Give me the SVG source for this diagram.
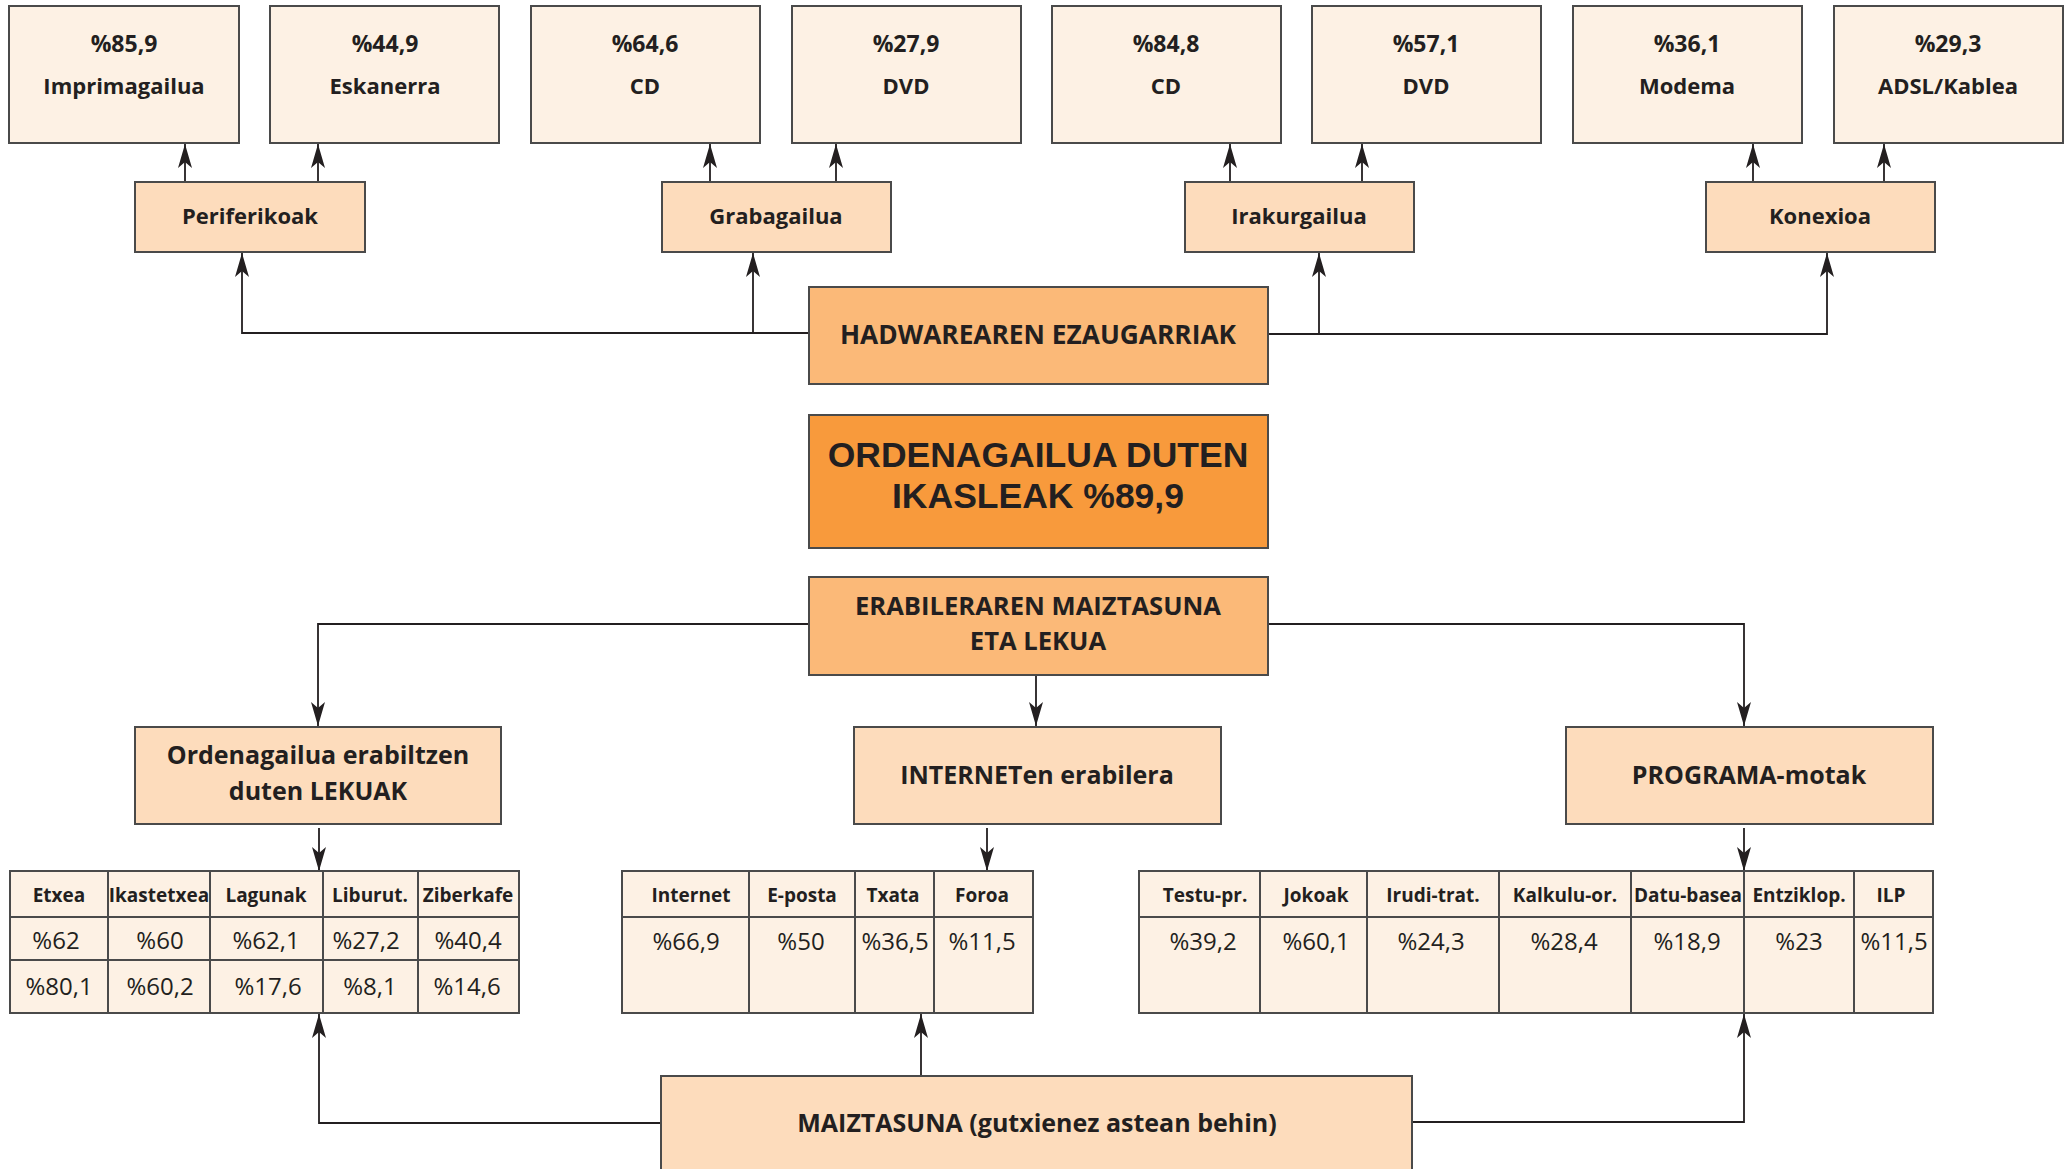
<svg xmlns="http://www.w3.org/2000/svg" width="2069" height="1169" viewBox="0 0 2069 1169">
<defs>
<style>
text{font-family:"Open Sans","Liberation Sans",Arial,sans-serif;fill:#231f20;text-anchor:middle}
.b{font-weight:bold}
.ttl{font-family:"Liberation Sans",Arial,sans-serif;font-weight:bold;font-size:35.5px}
.val{fill:#fdf1e4;stroke:#4a4a4a;stroke-width:2}
.mid{fill:#fddcbc;stroke:#4a4a4a;stroke-width:2}
.hdr{fill:#fbb978;stroke:#4a4a4a;stroke-width:2}
.main{fill:#f89a3c;stroke:#4a4a4a;stroke-width:2}
.grid{stroke:#4a4a4a;stroke-width:2;fill:none}
.t1{font-size:23px;font-weight:bold}
.t2{font-size:22px;font-weight:bold}
.th{font-size:19px;font-weight:bold}
.td{font-size:24px}
.lb{font-size:25px;font-weight:bold}
.conn{stroke:#231f20;stroke-width:1.8;fill:none}
.arr{marker-end:url(#ah)}
</style>
<marker id="ah" markerUnits="userSpaceOnUse" markerWidth="30" markerHeight="20" refX="24" refY="7" orient="auto" viewBox="0 0 30 20">
<path d="M24,7 L0,0 L6,7 L0,14 Z" fill="#231f20"/>
</marker>
</defs>

<g id="connectors">
<line class="conn arr" x1="185" y1="182" x2="185" y2="144"/>
<line class="conn arr" x1="318" y1="182" x2="318" y2="144"/>
<line class="conn arr" x1="710" y1="182" x2="710" y2="144"/>
<line class="conn arr" x1="836" y1="182" x2="836" y2="144"/>
<line class="conn arr" x1="1230" y1="182" x2="1230" y2="144"/>
<line class="conn arr" x1="1362" y1="182" x2="1362" y2="144"/>
<line class="conn arr" x1="1753" y1="182" x2="1753" y2="144"/>
<line class="conn arr" x1="1884" y1="182" x2="1884" y2="144"/>
<polyline class="conn arr" points="809,333 242,333 242,253"/>
<line class="conn arr" x1="753" y1="333" x2="753" y2="253"/>
<polyline class="conn arr" points="1268,334 1827,334 1827,253"/>
<line class="conn arr" x1="1319" y1="334" x2="1319" y2="253"/>
<polyline class="conn arr" points="809,624 318,624 318,726"/>
<polyline class="conn arr" points="1268,624 1744,624 1744,726"/>
<line class="conn arr" x1="1036" y1="676" x2="1036" y2="726"/>
<line class="conn arr" x1="319" y1="828" x2="319" y2="871"/>
<line class="conn arr" x1="987" y1="828" x2="987" y2="871"/>
<line class="conn arr" x1="1744" y1="828" x2="1744" y2="871"/>
<polyline class="conn arr" points="661,1123 319,1123 319,1014"/>
<polyline class="conn arr" points="1412,1122 1744,1122 1744,1014"/>
<line class="conn arr" x1="921" y1="1076" x2="921" y2="1014"/>
</g>

<g id="v-imprimagailua"><rect class="val" x="9" y="6" width="230" height="137"/><text class="t1" x="124" y="52">%85,9</text><text class="t2" x="124" y="94">Imprimagailua</text></g>
<g id="v-eskanerra"><rect class="val" x="270" y="6" width="229" height="137"/><text class="t1" x="385" y="52">%44,9</text><text class="t2" x="385" y="94">Eskanerra</text></g>
<g id="v-cd1"><rect class="val" x="531" y="6" width="229" height="137"/><text class="t1" x="645" y="52">%64,6</text><text class="t2" x="645" y="94">CD</text></g>
<g id="v-dvd1"><rect class="val" x="792" y="6" width="229" height="137"/><text class="t1" x="906" y="52">%27,9</text><text class="t2" x="906" y="94">DVD</text></g>
<g id="v-cd2"><rect class="val" x="1052" y="6" width="229" height="137"/><text class="t1" x="1166" y="52">%84,8</text><text class="t2" x="1166" y="94">CD</text></g>
<g id="v-dvd2"><rect class="val" x="1312" y="6" width="229" height="137"/><text class="t1" x="1426" y="52">%57,1</text><text class="t2" x="1426" y="94">DVD</text></g>
<g id="v-modema"><rect class="val" x="1573" y="6" width="229" height="137"/><text class="t1" x="1687" y="52">%36,1</text><text class="t2" x="1687" y="94">Modema</text></g>
<g id="v-adsl"><rect class="val" x="1834" y="6" width="229" height="137"/><text class="t1" x="1948" y="52">%29,3</text><text class="t2" x="1948" y="94">ADSL/Kablea</text></g>

<g id="periferikoak"><rect class="mid" x="135" y="182" width="230" height="70"/><text class="t2" x="250" y="224">Periferikoak</text></g>
<g id="grabagailua"><rect class="mid" x="662" y="182" width="229" height="70"/><text class="t2" x="776" y="224">Grabagailua</text></g>
<g id="irakurgailua"><rect class="mid" x="1185" y="182" width="229" height="70"/><text class="t2" x="1299" y="224">Irakurgailua</text></g>
<g id="konexioa"><rect class="mid" x="1706" y="182" width="229" height="70"/><text class="t2" x="1820" y="224">Konexioa</text></g>

<g id="hardware"><rect class="hdr" x="809" y="287" width="459" height="97"/><text class="lb" style="font-size:26.3px" x="1038" y="344">HADWAREAREN EZAUGARRIAK</text></g>
<g id="main"><rect class="main" x="809" y="415" width="459" height="133"/><text class="ttl" x="1038" y="467">ORDENAGAILUA DUTEN<tspan x="1038" y="508">IKASLEAK %89,9</tspan></text></g>
<g id="erabilera"><rect class="hdr" x="809" y="577" width="459" height="98"/><text class="lb" style="font-size:25.6px" x="1038" y="615">ERABILERAREN MAIZTASUNA<tspan x="1038" y="650">ETA LEKUA</tspan></text></g>

<g id="lekuak"><rect class="mid" x="135" y="727" width="366" height="97"/><text class="lb" x="318" y="764">Ordenagailua erabiltzen<tspan x="318" y="800">duten LEKUAK</tspan></text></g>
<g id="internet"><rect class="mid" x="854" y="727" width="367" height="97"/><text class="lb" x="1037" y="784">INTERNETen erabilera</text></g>
<g id="programa"><rect class="mid" x="1566" y="727" width="367" height="97"/><text class="lb" x="1749" y="784">PROGRAMA-motak</text></g>

<g id="table-lekuak">
<rect class="val" x="10" y="871" width="509" height="142"/>
<path class="grid" d="M10,917H519M10,960H519M108,871V1013M210,871V1013M323,871V1013M418,871V1013"/>
<text class="th" x="59" y="902">Etxea</text><text class="th" x="159" y="902">Ikastetxea</text><text class="th" x="266" y="902">Lagunak</text><text class="th" x="370" y="902">Liburut.</text><text class="th" x="468" y="902">Ziberkafe</text>
<text class="td" x="56" y="949">%62</text><text class="td" x="160" y="949">%60</text><text class="td" x="266" y="949">%62,1</text><text class="td" x="366" y="949">%27,2</text><text class="td" x="468" y="949">%40,4</text>
<text class="td" x="59" y="995">%80,1</text><text class="td" x="160" y="995">%60,2</text><text class="td" x="268" y="995">%17,6</text><text class="td" x="370" y="995">%8,1</text><text class="td" x="467" y="995">%14,6</text>
</g>

<g id="table-internet">
<rect class="val" x="622" y="871" width="411" height="142"/>
<path class="grid" d="M622,917H1033M749,871V1013M855,871V1013M934,871V1013"/>
<text class="th" x="691" y="902">Internet</text><text class="th" x="802" y="902">E-posta</text><text class="th" x="893" y="902">Txata</text><text class="th" x="982" y="902">Foroa</text>
<text class="td" x="686" y="950">%66,9</text><text class="td" x="801" y="950">%50</text><text class="td" x="895" y="950">%36,5</text><text class="td" x="982" y="950">%11,5</text>
</g>

<g id="table-programa">
<rect class="val" x="1139" y="871" width="794" height="142"/>
<path class="grid" d="M1139,917H1933M1260,871V1013M1367,871V1013M1499,871V1013M1631,871V1013M1744,871V1013M1854,871V1013"/>
<text class="th" x="1205" y="902">Testu-pr.</text><text class="th" x="1316" y="902">Jokoak</text><text class="th" x="1433" y="902">Irudi-trat.</text><text class="th" x="1565" y="902">Kalkulu-or.</text><text class="th" x="1688" y="902">Datu-basea</text><text class="th" x="1799" y="902">Entziklop.</text><text class="th" x="1891" y="902">ILP</text>
<text class="td" x="1203" y="950">%39,2</text><text class="td" x="1316" y="950">%60,1</text><text class="td" x="1431" y="950">%24,3</text><text class="td" x="1564" y="950">%28,4</text><text class="td" x="1687" y="950">%18,9</text><text class="td" x="1799" y="950">%23</text><text class="td" x="1894" y="950">%11,5</text>
</g>

<g id="maiztasuna"><rect class="mid" x="661" y="1076" width="751" height="110"/><text class="lb" x="1037" y="1132">MAIZTASUNA (gutxienez astean behin)</text></g>
</svg>
